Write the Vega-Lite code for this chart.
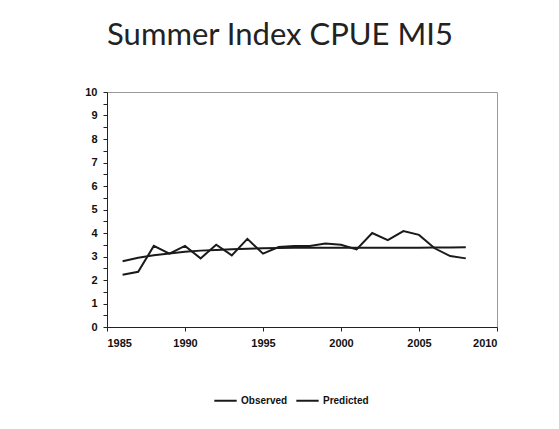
{
  "$schema": "https://vega.github.io/schema/vega-lite/v6.json",
  "autosize": {"type": "none"},
  "width": 390,
  "height": 235,
  "padding": {"left": 107, "top": 92, "right": 62, "bottom": 102},
  "background": "white",
  "title": {
    "text": "Summer Index CPUE MI5",
    "font": "Lato",
    "fontSize": 31,
    "fontWeight": "normal",
    "color": "#222",
    "anchor": "middle",
    "frame": "group",
    "dx": -22,
    "offset": 34
  },
  "config": {
    "view": {"stroke": "#999", "strokeWidth": 1},
    "axis": {
      "labelFont": "Liberation Sans",
      "labelFontWeight": "bold",
      "labelFontSize": 11,
      "labelColor": "#111",
      "domainColor": "#222",
      "tickColor": "#222",
      "grid": false,
      "title": null
    }
  },
  "data": {
    "values": [
      {"year": 1986, "series": "Observed", "cpue": 2.22},
      {"year": 1987, "series": "Observed", "cpue": 2.35},
      {"year": 1988, "series": "Observed", "cpue": 3.45},
      {"year": 1989, "series": "Observed", "cpue": 3.12},
      {"year": 1990, "series": "Observed", "cpue": 3.45},
      {"year": 1991, "series": "Observed", "cpue": 2.92},
      {"year": 1992, "series": "Observed", "cpue": 3.5},
      {"year": 1993, "series": "Observed", "cpue": 3.05},
      {"year": 1994, "series": "Observed", "cpue": 3.75},
      {"year": 1995, "series": "Observed", "cpue": 3.12},
      {"year": 1996, "series": "Observed", "cpue": 3.4},
      {"year": 1997, "series": "Observed", "cpue": 3.45},
      {"year": 1998, "series": "Observed", "cpue": 3.45},
      {"year": 1999, "series": "Observed", "cpue": 3.55},
      {"year": 2000, "series": "Observed", "cpue": 3.5},
      {"year": 2001, "series": "Observed", "cpue": 3.3},
      {"year": 2002, "series": "Observed", "cpue": 4.0},
      {"year": 2003, "series": "Observed", "cpue": 3.7},
      {"year": 2004, "series": "Observed", "cpue": 4.08},
      {"year": 2005, "series": "Observed", "cpue": 3.92},
      {"year": 2006, "series": "Observed", "cpue": 3.35},
      {"year": 2007, "series": "Observed", "cpue": 3.02},
      {"year": 2008, "series": "Observed", "cpue": 2.92},
      {"year": 1986, "series": "Predicted", "cpue": 2.8},
      {"year": 1987, "series": "Predicted", "cpue": 2.95},
      {"year": 1988, "series": "Predicted", "cpue": 3.05},
      {"year": 1989, "series": "Predicted", "cpue": 3.13},
      {"year": 1990, "series": "Predicted", "cpue": 3.2},
      {"year": 1991, "series": "Predicted", "cpue": 3.25},
      {"year": 1992, "series": "Predicted", "cpue": 3.28},
      {"year": 1993, "series": "Predicted", "cpue": 3.31},
      {"year": 1994, "series": "Predicted", "cpue": 3.33},
      {"year": 1995, "series": "Predicted", "cpue": 3.35},
      {"year": 1996, "series": "Predicted", "cpue": 3.36},
      {"year": 1997, "series": "Predicted", "cpue": 3.37},
      {"year": 1998, "series": "Predicted", "cpue": 3.37},
      {"year": 1999, "series": "Predicted", "cpue": 3.37},
      {"year": 2000, "series": "Predicted", "cpue": 3.37},
      {"year": 2001, "series": "Predicted", "cpue": 3.37},
      {"year": 2002, "series": "Predicted", "cpue": 3.37},
      {"year": 2003, "series": "Predicted", "cpue": 3.37},
      {"year": 2004, "series": "Predicted", "cpue": 3.37},
      {"year": 2005, "series": "Predicted", "cpue": 3.37},
      {"year": 2006, "series": "Predicted", "cpue": 3.38},
      {"year": 2007, "series": "Predicted", "cpue": 3.38},
      {"year": 2008, "series": "Predicted", "cpue": 3.39}
    ]
  },
  "mark": {"type": "line", "strokeWidth": 2},
  "encoding": {
    "x": {
      "field": "year",
      "type": "quantitative",
      "scale": {"domain": [1985, 2010], "nice": false, "zero": false},
      "axis": {"values": [1985, 1990, 1995, 2000, 2005, 2010], "format": "d", "labelPadding": 6, "tickSize": 4}
    },
    "y": {
      "field": "cpue",
      "type": "quantitative",
      "scale": {"domain": [0, 10], "nice": false},
      "axis": {
        "values": [0, 0.5, 1, 1.5, 2, 2.5, 3, 3.5, 4, 4.5, 5, 5.5, 6, 6.5, 7, 7.5, 8, 8.5, 9, 9.5, 10],
        "labelExpr": "datum.value % 1 == 0 ? format(datum.value, 'd') : ''",
        "tickSize": 4,
        "labelPadding": 6
      }
    },
    "color": {
      "field": "series",
      "type": "nominal",
      "scale": {"domain": ["Observed", "Predicted"], "range": ["#1a1a1a", "#1a1a1a"]},
      "legend": {
        "title": null,
        "orient": "none",
        "direction": "horizontal",
        "legendX": 106,
        "legendY": 296,
        "symbolType": "stroke",
        "symbolSize": 500,
        "symbolStrokeWidth": 2,
        "labelFont": "Liberation Sans",
        "labelFontWeight": "bold",
        "labelFontSize": 10,
        "labelColor": "#111",
        "columnPadding": 4,
        "labelOffset": 3
      }
    }
  }
}
